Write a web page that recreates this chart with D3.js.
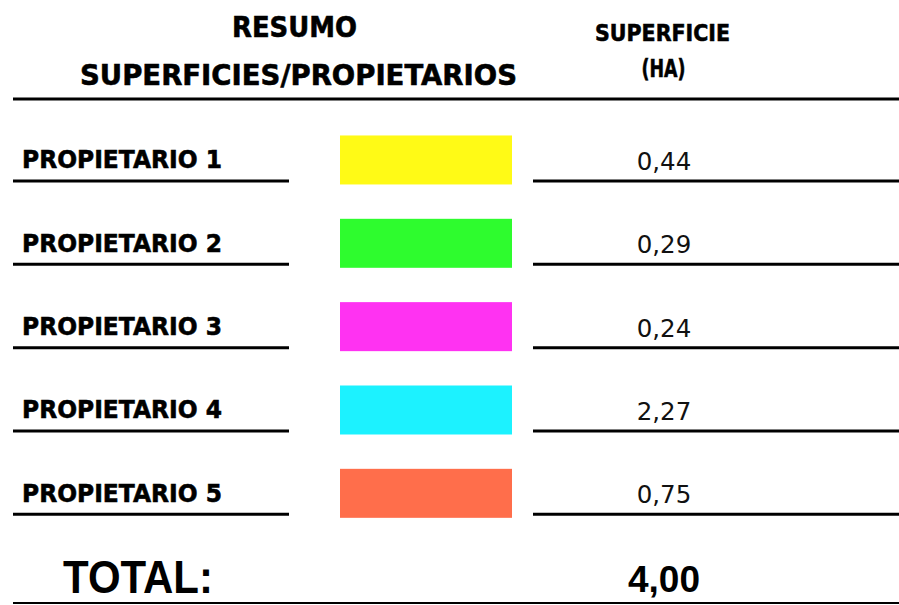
<!DOCTYPE html>
<html lang="es">
<head>
    <meta charset="UTF-8">
    <title>Resumo superficies/propietarios</title>
    <style>
        body { margin: 0; background: #fff; }
        svg { display: block; }
        .hdr { font-family: "DejaVu Sans", sans-serif; font-weight: bold; fill: #000; stroke: #000; stroke-width: 0.6px; }
        .val { font-family: "DejaVu Sans", sans-serif; fill: #111; }
        .tot { font-family: "Liberation Sans", Arial, sans-serif; font-weight: bold; fill: #000; }
    </style>
</head>
<body>
    <svg id="chart" width="899" height="605"></svg>
    <script src="https://d3js.org/d3.v7.min.js"></script>
    <script>
        // data
        const owners = ["PROPIETARIO 1", "PROPIETARIO 2", "PROPIETARIO 3", "PROPIETARIO 4", "PROPIETARIO 5"];
        const areas = [0.44, 0.29, 0.24, 2.27, 0.75];
        const colors = ["#FFFA17", "#2EFC2E", "#FF30F2", "#1EF2FF", "#FF6E4C"];
        const totalArea = 4.00;

        const width = 899, height = 605;
        const svg = d3.select("#chart");

        const fmt = d3.formatLocale({ decimal: ",", thousands: ".", grouping: [3], currency: ["", ""] }).format(".2f");

        // row positions
        const y = d3.scaleBand().domain(owners).range([118.3, 535]);
        const rowC = d => y(d) + y.bandwidth() / 2;
        const valX = 664;

        // blur for swatch edges
        svg.append("defs").append("filter").attr("id", "soft")
            .append("feGaussianBlur").attr("stdDeviation", 0.6);

        // header
        svg.append("text").attr("class", "hdr").attr("x", 294.5).attr("y", 37)
            .attr("text-anchor", "middle").attr("font-size", 28)
            .attr("textLength", 125).attr("lengthAdjust", "spacingAndGlyphs")
            .text("RESUMO");
        svg.append("text").attr("class", "hdr").attr("x", 298.5).attr("y", 85)
            .attr("text-anchor", "middle").attr("font-size", 28)
            .attr("textLength", 437).attr("lengthAdjust", "spacingAndGlyphs")
            .text("SUPERFICIES/PROPIETARIOS");
        svg.append("text").attr("class", "hdr").attr("x", 662.5).attr("y", 41)
            .attr("text-anchor", "middle").attr("font-size", 23)
            .attr("textLength", 135).attr("lengthAdjust", "spacingAndGlyphs")
            .text("SUPERFICIE");
        svg.append("text").attr("class", "hdr").attr("x", 663.5).attr("y", 77)
            .attr("text-anchor", "middle").attr("font-size", 24)
            .attr("textLength", 44).attr("lengthAdjust", "spacingAndGlyphs")
            .text("(HA)");

        svg.append("line").attr("x1", 13).attr("x2", width).attr("y1", 99).attr("y2", 99)
            .attr("stroke", "#000").attr("stroke-width", 3);

        // rows
        const rows = svg.selectAll("g.row").data(owners).join("g").attr("class", "row");

        rows.append("text").attr("class", "hdr")
            .attr("x", 22).attr("y", d => rowC(d) + 8.5)
            .attr("font-size", 25)
            .attr("textLength", 200).attr("lengthAdjust", "spacingAndGlyphs")
            .text(d => d);

        rows.append("line").attr("x1", 13).attr("x2", 289)
            .attr("y1", d => rowC(d) + 21).attr("y2", d => rowC(d) + 21)
            .attr("stroke", "#000").attr("stroke-width", 3);

        rows.append("rect")
            .attr("x", 340).attr("width", 172)
            .attr("y", d => rowC(d) - 24.5).attr("height", 49)
            .attr("fill", (d, i) => colors[i])
            .attr("filter", "url(#soft)");

        rows.append("text").attr("class", "val")
            .attr("x", valX).attr("y", d => rowC(d) + 10)
            .attr("text-anchor", "middle").attr("font-size", 24.5)
            .text((d, i) => fmt(areas[i]));

        rows.append("line").attr("x1", 533).attr("x2", width)
            .attr("y1", d => rowC(d) + 21).attr("y2", d => rowC(d) + 21)
            .attr("stroke", "#000").attr("stroke-width", 3);

        // total
        svg.append("text").attr("class", "tot").attr("x", 63).attr("y", 593)
            .attr("font-size", 46)
            .attr("textLength", 150).attr("lengthAdjust", "spacingAndGlyphs")
            .text("TOTAL:");
        svg.append("text").attr("class", "tot").attr("x", valX).attr("y", 592)
            .attr("text-anchor", "middle").attr("font-size", 37)
            .attr("textLength", 72).attr("lengthAdjust", "spacingAndGlyphs")
            .text(fmt(totalArea));

        svg.append("line").attr("x1", 13).attr("x2", width).attr("y1", 603).attr("y2", 603)
            .attr("stroke", "#000").attr("stroke-width", 2);
    </script>
</body>
</html>
